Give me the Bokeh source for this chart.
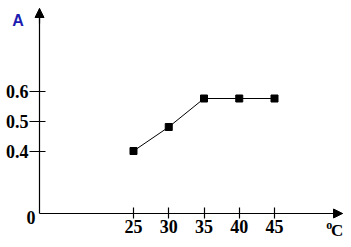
from bokeh.plotting import figure
from bokeh.models import Range1d, FixedTicker, Label, Arrow, NormalHead, LinearAxis
from bokeh.embed import file_html
from bokeh.resources import INLINE

# data
temps = [25, 30, 35, 40, 45]
absorb = [0.40, 0.48, 0.575, 0.575, 0.575]
x_ticks = [25, 30, 35, 40, 45]
y_ticks = [0.4, 0.5, 0.6]
y_label = "A"
x_label_sup = "o"
x_label_main = "C"
origin_label = "0"

# axis origin / ends (data units)
X0, X1 = 11.67, 54.65
Y0, Y1 = 0.1917, 0.875

p = figure(width=343, height=239, output_backend="svg", toolbar_location=None,
           x_range=Range1d(6.135, 54.787), y_range=Range1d(0.105, 0.9017),
           x_axis_type=None, y_axis_type=None,
           min_border_left=0, min_border_right=0, min_border_top=0, min_border_bottom=0)
p.outline_line_color = None
p.xgrid.visible = False
p.ygrid.visible = False
p.background_fill_color = "white"
p.border_fill_color = "white"

xax = LinearAxis(fixed_location=Y0, bounds=(X0, X1), ticker=FixedTicker(ticks=x_ticks))
yax = LinearAxis(fixed_location=X0, bounds=(Y0, Y1), ticker=FixedTicker(ticks=y_ticks))
for ax in (xax, yax):
    ax.axis_line_color = "black"
    ax.axis_line_width = 1.2
    ax.major_tick_line_color = "black"
    ax.major_tick_line_width = 1.2
    ax.minor_tick_line_color = None
    ax.major_label_text_font = "Liberation Serif"
    ax.major_label_text_font_style = "bold"
    ax.major_label_text_color = "black"

xax.major_tick_in = 6
xax.major_tick_out = 5
xax.major_label_standoff = 2
xax.major_label_text_font_size = "18px"

yax.major_tick_in = 6
yax.major_tick_out = 10
yax.major_label_standoff = 1
yax.major_label_text_font_size = "18px"

p.add_layout(xax, "below")
p.add_layout(yax, "left")

# axis arrows
p.add_layout(Arrow(end=NormalHead(size=9, fill_color="black", line_color="black", line_width=1),
                   x_start=X0, y_start=Y1 - 0.05, x_end=X0, y_end=Y1,
                   line_color="black", line_width=1.2))
p.add_layout(Arrow(end=NormalHead(size=9, fill_color="black", line_color="black", line_width=1),
                   x_start=X1 - 2, y_start=Y0, x_end=X1, y_end=Y0,
                   line_color="black", line_width=1.2))

# data
p.line(temps, absorb, line_color="black", line_width=1)
p.scatter(temps, absorb, marker="square", size=7, fill_color="black", line_color="black")

# labels
p.add_layout(Label(x=10.46, y=0.178, text=origin_label, text_align="center", text_baseline="middle",
                   text_font="Liberation Serif", text_font_style="bold", text_font_size="18px",
                   text_color="black"))
p.add_layout(Label(x=8.62, y=0.835, text=y_label, text_align="center", text_baseline="middle",
                   text_font="Liberation Sans", text_font_style="bold", text_font_size="16px",
                   text_color="#1c1cb0"))
p.add_layout(Label(x=53.87, y=0.135, text=x_label_main, text_align="center", text_baseline="middle",
                   text_font="Liberation Serif", text_font_style="bold", text_font_size="17px",
                   text_color="black"))
p.add_layout(Label(x=52.75, y=0.155, text=x_label_sup, text_align="center", text_baseline="middle",
                   text_font="Liberation Serif", text_font_style="bold", text_font_size="12px",
                   text_color="black"))

open("out.html", "w").write(file_html(p, INLINE))
